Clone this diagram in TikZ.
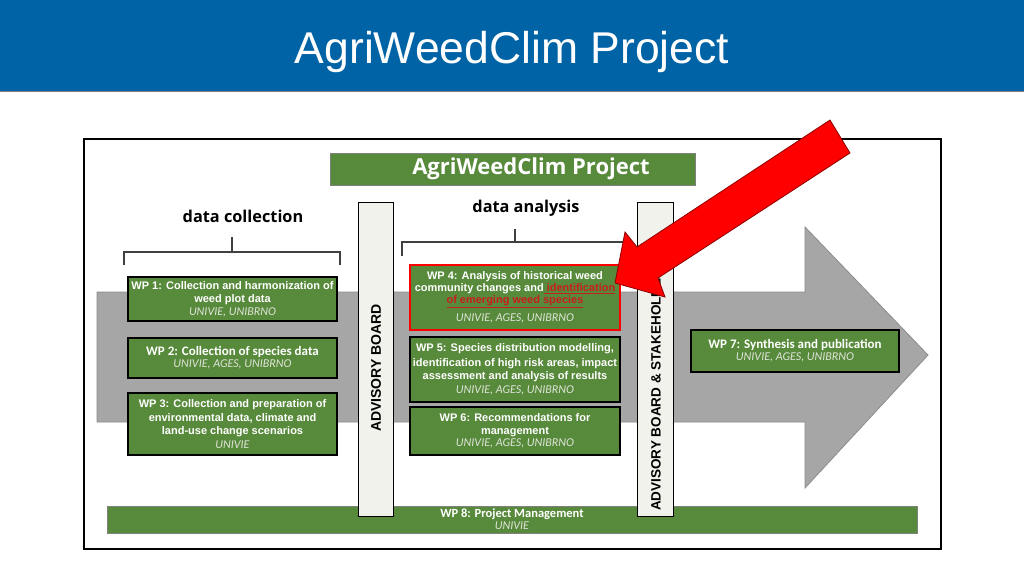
\documentclass[tikz,border=0pt]{standalone}
\usepackage{fontspec}
\setmainfont{Liberation Sans}
\newfontfamily\osans{Open Sans}
\newfontfamily\calfont{Carlito}
\definecolor{hdrblue}{RGB}{0,99,166}
\definecolor{wpgreen}{RGB}{88,138,60}
\definecolor{arrgray}{RGB}{166,166,166}
\definecolor{arrborder}{RGB}{140,140,140}
\definecolor{barfill}{RGB}{242,242,236}
\definecolor{itgray}{RGB}{222,228,216}
\definecolor{linkred}{RGB}{200,30,30}
\definecolor{brk}{RGB}{64,64,64}
\newcommand{\ital}[1]{{\calfont\mdseries\itshape\fontsize{12}{13}\selectfont\color{itgray}#1}}
\begin{document}
\begin{tikzpicture}[x=1pt,y=-1pt,
  wpbox/.style={draw=black, line width=2pt, fill=wpgreen, text=white, align=center,
    inner sep=0pt, font=\fontsize{11}{13}\selectfont\bfseries},
  wpcal/.style={wpbox, font=\calfont\fontsize{13}{13}\selectfont\bfseries},
  barbox/.style={draw=black, line width=0.8pt, fill=barfill, inner sep=0pt},
  bartext/.style={rotate=90, font=\fontsize{14}{14}\selectfont\bfseries, inner sep=0pt},
  headtext/.style={font=\osans\bfseries\fontsize{16.3}{18}\selectfont, inner sep=0pt},
  bracket/.style={draw=brk, line width=2pt}
]
\useasboundingbox (0,0) rectangle (1024,576);
% header band
\fill[hdrblue] (0,0) rectangle (1024,91);
\draw[gray, line width=0.8pt] (0,91) -- (1024,91);
\node[anchor=base, text=white, inner sep=0pt,
  font=\fontsize{44.5}{50}\selectfont] (htitle) at (512,63) {AgriWeedClim Project};
% outer frame
\draw[black, line width=2.5pt] (84,139) rectangle (941,549);
% big gray arrow
\filldraw[fill=arrgray, draw=arrborder, line width=0.8pt]
  (97,292) -- (805,292) -- (805,227) -- (928,355) -- (805,488) -- (805,422) -- (97,422) -- cycle;
% title box
\node[draw=gray, line width=0.8pt, fill=wpgreen, minimum width=365pt, minimum height=32pt,
  inner sep=0pt] (tbox) at (512.5,169) {};
\node[text=white, font=\osans\bfseries\fontsize{22}{24}\selectfont, inner sep=0pt]
  (ttext) at (531,169) {AgriWeedClim Project};
% section headings
\node[headtext] (dcoll) at (243,216) {data collection};
\node[headtext] (dana) at (526,208) {data analysis};
% brackets
\coordinate (bl1) at (124,265);
\coordinate (bl2) at (124,252);
\coordinate (bl3) at (340,252);
\coordinate (bl4) at (340,265);
\coordinate (bls) at (232,252);
\coordinate (blt) at (232,237);
\draw[bracket] (bl1) -- (bl2) -- (bl3) -- (bl4);
\draw[bracket] (bls) -- (blt);
\coordinate (br1) at (402,256);
\coordinate (br2) at (402,242);
\coordinate (br3) at (628,242);
\coordinate (br4) at (628,256);
\coordinate (brs) at (515,242);
\coordinate (brt) at (515,229);
\draw[bracket] (br1) -- (br2) -- (br3) -- (br4);
\draw[bracket] (brs) -- (brt);
% WP8 (behind the bars)
\node[draw=gray, line width=0.8pt, fill=wpgreen, text=white, align=center, inner sep=0pt,
  minimum width=810pt, minimum height=27pt,
  font=\calfont\fontsize{12.5}{13}\selectfont\bfseries] (wp8) at (512,519.5)
  {WP 8: Project Management\\[-1pt]\ital{UNIVIE}};
% advisory bars
\node[barbox, minimum width=35pt, minimum height=314pt] (bar1) at (375.5,359) {};
\node[bartext] (bar1t) at (376,368) {ADVISORY BOARD};
\node[barbox, minimum width=36pt, minimum height=314pt] (bar2) at (655,359) {};
\node[bartext, anchor=west, font=\fontsize{13.5}{14}\selectfont\bfseries] (bar2t) at (656,511)
  {ADVISORY BOARD \& STAKEHOLDERS};
% work packages
\node[wpbox, minimum width=209pt, minimum height=44pt] (wp1) at (232.5,299)
  {WP 1: Collection and harmonization of\\weed plot data\\\ital{UNIVIE, UNIBRNO}};
\node[wpcal, minimum width=209pt, minimum height=40pt] (wp2) at (232.5,358)
  {WP 2: Collection of species data\\[-1pt]\ital{UNIVIE, AGES, UNIBRNO}};
\node[wpbox, minimum width=209pt, minimum height=62pt] (wp3) at (232.5,424)
  {WP 3: Collection and preparation of\\[1pt]environmental data, climate and\\land-use change scenarios\\[1pt]\ital{UNIVIE}};
\node[wpbox, draw=red, minimum width=210pt, minimum height=65pt] (wp4) at (515,297.5)
  {WP 4: Analysis of historical weed\\[-1pt]community changes and{\color{linkred}\underline{ identification}}\\[-1pt]{\color{linkred}\underline{of emerging weed species}}\\[5pt]\ital{UNIVIE, AGES, UNIBRNO}};
\node[wpbox, minimum width=210pt, minimum height=65pt] (wp5) at (515,369.5)
  {WP 5: Species distribution modelling,\\[2pt]identification of high risk areas, impact\\assessment and analysis of results\\[1pt]\ital{UNIVIE, AGES, UNIBRNO}};
\node[wpbox, minimum width=210pt, minimum height=48pt] (wp6) at (515,431)
  {WP 6: Recommendations for\\management\\[-1pt]\ital{UNIVIE, AGES, UNIBRNO}};
\node[wpcal, minimum width=208pt, minimum height=42pt] (wp7) at (795,351)
  {WP 7: Synthesis and publication\\[-1pt]\ital{UNIVIE, AGES, UNIBRNO}};
% red pointer arrow
\filldraw[fill=red, draw=red!55!black, line width=0.8pt, line join=miter]
  (830,120) -- (850,153) -- (658,278) -- (665,297) -- (615,283) -- (625,232) -- (637,247) -- cycle;
\end{tikzpicture}
\end{document}
